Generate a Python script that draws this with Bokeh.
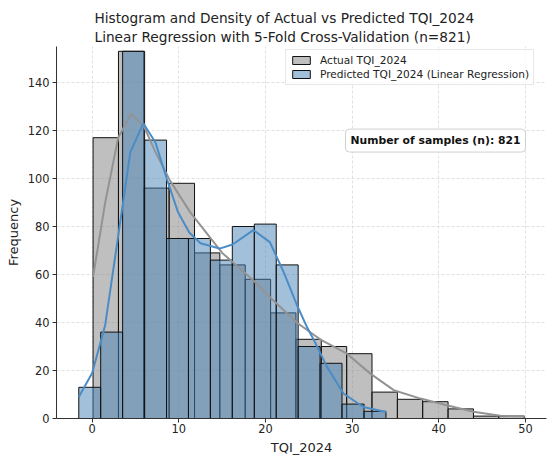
from bokeh.plotting import figure
from bokeh.models import Range1d, Title, Label, Legend, LegendItem, FixedTicker
from bokeh.embed import file_html
from bokeh.resources import INLINE

FONT = "DejaVu Sans"

# ---- data ----
actual_edges = [0.10, 3.03, 5.95, 8.88, 11.81, 14.73, 17.66, 20.59, 23.51, 26.44,
                29.37, 32.29, 35.22, 38.14, 41.07, 44.00, 46.92, 49.85]
actual_counts = [117, 153, 96, 98, 69, 64, 58, 44, 33, 30, 27, 11, 8, 7, 4, 1, 1]

pred_edges = [-1.55, 0.98, 3.51, 6.05, 8.58, 11.11, 13.64, 16.17, 18.71, 21.24,
              23.77, 26.30, 28.83, 31.37, 33.90]
pred_counts = [13, 36, 153, 116, 75, 75, 66, 80, 81, 64, 30, 23, 6, 3]

actual_kde_x = [0.1, 1.5, 3.0, 4.5, 6.0, 7.3, 9.0, 11.3, 15.0, 18.6, 21.1, 23.6,
                26.3, 29.4, 32.1, 34.8, 37.9, 40.9, 44.0, 47.1, 49.9]
actual_kde_y = [59, 90, 117, 127, 121.5, 111, 99, 86, 69, 57.5, 48.5, 40,
                33, 27, 18.7, 11.8, 8.3, 5.5, 2.8, 1.1, 0.9]

pred_kde_x = [-1.55, 0.0, 1.5, 3.0, 4.4, 5.9, 7.3, 8.6, 9.9, 11.2, 12.5, 14.7,
              16.2, 18.6, 20.5, 22.1, 23.6, 24.8, 25.6, 27.1, 29.0, 31.3, 33.9]
pred_kde_y = [9, 19, 39, 76, 111, 123, 115, 100, 86, 77.5, 73, 70.8,
              72.5, 78.5, 73.5, 61, 47.5, 38, 32.6, 21.5, 10.4, 4.8, 2.7]

x_ticks = [0, 10, 20, 30, 40, 50]
y_ticks = [0, 20, 40, 60, 80, 100, 120, 140]

title_1 = "Histogram and Density of Actual vs Predicted TQI_2024"
title_2 = "Linear Regression with 5-Fold Cross-Validation (n=821)"
x_label = "TQI_2024"
y_label = "Frequency"
n_text = "Number of samples (n): 821"

# ---- figure ----
p = figure(width=550, height=466, output_backend="svg", toolbar_location=None,
           x_range=Range1d(-4.12, 52.43), y_range=Range1d(0, 155),
           min_border_left=56, min_border_right=4, min_border_top=46,
           min_border_bottom=48, title=None)
p.outline_line_color = None
p.background_fill_color = "white"

for g in (p.xgrid, p.ygrid):
    g.grid_line_color = "#d9d9d9"
    g.grid_line_dash = "3 2"
    g.grid_line_width = 0.8
p.xgrid.ticker = FixedTicker(ticks=x_ticks)
p.ygrid.ticker = FixedTicker(ticks=y_ticks)

p.xaxis.ticker = FixedTicker(ticks=x_ticks)
p.yaxis.ticker = FixedTicker(ticks=y_ticks)
for ax in (p.xaxis[0], p.yaxis[0]):
    ax.axis_line_color = "#333333"
    ax.major_tick_line_color = "#333333"
    ax.major_tick_out = 4
    ax.major_tick_in = 0
    ax.minor_tick_line_color = None
    ax.major_label_text_font = FONT
    ax.major_label_text_font_size = "11.4px"
    ax.major_label_text_color = "#222222"
    ax.axis_label_text_font = FONT
    ax.axis_label_text_font_size = "13px"
    ax.axis_label_text_font_style = "normal"
    ax.axis_label_text_color = "#222222"
p.xaxis.axis_label = x_label
p.yaxis.axis_label = y_label
p.xaxis.major_label_standoff = 1
p.xaxis.axis_label_standoff = 4
p.yaxis.major_label_standoff = 3
p.yaxis.axis_label_standoff = 4

r_act = p.quad(left=actual_edges[:-1], right=actual_edges[1:], top=actual_counts,
               bottom=0, fill_color="gray", fill_alpha=0.5,
               line_color="#111111", line_width=1)
r_pred = p.quad(left=pred_edges[:-1], right=pred_edges[1:], top=pred_counts,
                bottom=0, fill_color="steelblue", fill_alpha=0.5,
                line_color="#111111", line_width=1)
p.line(actual_kde_x, actual_kde_y, line_color="#939393", line_width=2)
p.line(pred_kde_x, pred_kde_y, line_color="#4a8cc6", line_width=2)

legend = Legend(items=[LegendItem(label="Actual TQI_2024", renderers=[r_act]),
                       LegendItem(label="Predicted TQI_2024 (Linear Regression)",
                                  renderers=[r_pred])],
                location=(229, 333), margin=0, padding=4, spacing=2,
                glyph_width=22, glyph_height=10, label_height=12,
                label_standoff=8, label_text_font=FONT,
                label_text_font_size="10.6px", label_text_color="#222222",
                border_line_color="#d0d0d0", background_fill_alpha=0.8)
p.add_layout(legend)

lab = Label(x=39.62, y=115.8, text=n_text, text_font=FONT, text_font_size="10.8px",
            text_font_style="bold", text_align="center", text_baseline="middle",
            text_color="#111111", background_fill_color="white",
            background_fill_alpha=0.9, border_line_color="#d0d0d0",
            padding=5, border_radius=4)
p.add_layout(lab)

title = Title(text=title_1 + "\n" + title_2, align="left", offset=38,
              vertical_align="bottom", standoff=2, text_font=FONT,
              text_font_size="13.7px", text_font_style="normal",
              text_color="#222222", text_line_height=1.2)
p.add_layout(title, "above")

open("out.html", "w").write(file_html(p, INLINE))
